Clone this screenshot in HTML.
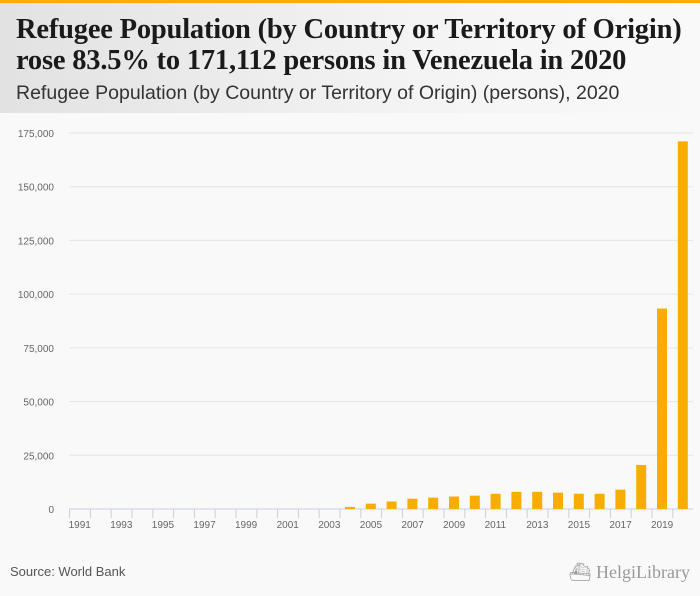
<!DOCTYPE html>
<html><head><meta charset="utf-8"><style>
body{margin:0;width:700px;height:596px;background:#f9f9f9;font-family:"Liberation Sans",sans-serif;overflow:hidden;position:relative}
#hdr{position:absolute;left:0;top:0;width:700px;height:113px;background:linear-gradient(90deg,#e2e2e2,#f4f4f4 60%,#f9f9f9);border-top:3px solid #f8b000;box-sizing:border-box}
#title{position:absolute;left:16px;top:11px;font-family:"Liberation Serif",serif;font-weight:bold;font-size:28.5px;line-height:31px;color:#1a1a1a;letter-spacing:-0.2px;white-space:nowrap}
#sub{position:absolute;left:16px;top:79px;font-size:19.5px;color:#333;white-space:nowrap}
#src{position:absolute;left:10px;top:564px;font-size:13px;color:#555}
#logo{position:absolute;right:10px;top:562px;font-family:"Liberation Serif",serif;font-size:18px;color:#999}
</style></head><body>
<div id="hdr">
<div id="title">Refugee Population (by Country or Territory of Origin)<br>rose 83.5% to 171,112 persons in Venezuela in 2020</div>
<div id="sub">Refugee Population (by Country or Territory of Origin) (persons), 2020</div>
</div>
<svg id="chart" width="700" height="596" style="position:absolute;left:0;top:0"></svg>
<div id="src">Source: World Bank</div>
<div id="logo">⛴ HelgiLibrary</div>
<script>
const years=[1991,1992,1993,1994,1995,1996,1997,1998,1999,2000,2001,2002,2003,2004,2005,2006,2007,2008,2009,2010,2011,2012,2013,2014,2015,2016,2017,2018,2019,2020];
const values=[0,0,0,0,0,0,0,0,0,0,0,0,0,1000,2500,3500,4800,5300,5800,6200,7100,8000,8000,7600,7100,7100,9000,20500,93300,171112];
const yTicks=[0,25000,50000,75000,100000,125000,150000,175000];
const svg=document.getElementById('chart');const NS='http://www.w3.org/2000/svg';
const x0=69.6,slot=20.8,yZero=509,pxPer=(509-133)/175000;
const X=i=>x0+i*slot, Y=v=>yZero-v*pxPer;
function mk(t,a){const e=document.createElementNS(NS,t);for(const k in a)e.setAttribute(k,a[k]);svg.appendChild(e);return e;}
yTicks.forEach(v=>{
 const g=mk('line',{x1:69,x2:693,y1:Y(v),y2:Y(v),stroke:v?'#e4e4e4':'#c8d0e0','stroke-width':1});
 
 
 const t=mk('text',{x:54,y:Y(v)+4,'text-anchor':'end','font-size':10,fill:'#666','font-family':'Liberation Sans,sans-serif'});
 t.textContent=v.toLocaleString('en-US');
 
 
});
years.forEach((yr,i)=>{
 const tk=mk('line',{x1:X(i),x2:X(i),y1:yZero,y2:yZero+9,stroke:'#c8d0e0'});
 
 
 if(i%2===0){const t=mk('text',{x:X(i)-1,y:yZero+19,'font-size':10,fill:'#666','font-family':'Liberation Sans,sans-serif'});t.textContent=yr;
 
 }
 const v=values[i];
 if(v>0){const b=mk('rect',{x:X(i)+5,y:Y(v),width:10,height:yZero-Y(v),fill:'#f8ae00'});
 
 }
});
</script>
</body></html>
